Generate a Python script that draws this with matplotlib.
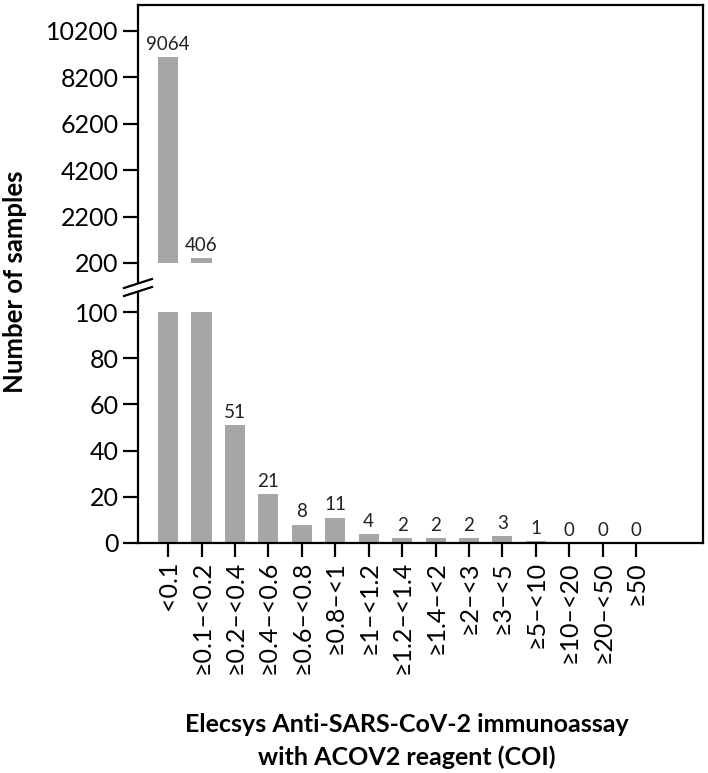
import matplotlib
matplotlib.use("Agg")
import matplotlib.pyplot as plt
from matplotlib.lines import Line2D
from matplotlib.patches import Polygon

plt.rcParams['font.family'] = ['Lato', 'DejaVu Sans']

categories = ["<0.1", "≥0.1–<0.2", "≥0.2–<0.4", "≥0.4–<0.6", "≥0.6–<0.8", "≥0.8–<1",
              "≥1–<1.2", "≥1.2–<1.4", "≥1.4–<2", "≥2–<3", "≥3–<5", "≥5–<10",
              "≥10–<20", "≥20–<50", "≥50"]
counts = [9064, 406, 51, 21, 8, 11, 4, 2, 2, 2, 3, 1, 0, 0, 0]
upper_ticks = [200, 2200, 4200, 6200, 8200, 10200]
lower_ticks = [0, 20, 40, 60, 80, 100]

W, H = 708, 773
fig = plt.figure(figsize=(W / 100, H / 100), dpi=100)

def fx(px):
    return px / W

def fy(py):
    return 1 - py / H

left, right = 138, 703
top, bottom = 5, 543
up_bot = 263
lo_top = 312

bar_color = "#a6a6a6"
lw = 1.6
xs = list(range(len(categories)))
xlim = (-0.9, 16.0)

# frame
frame = fig.add_axes([fx(left), fy(bottom), fx(right) - fx(left), fy(top) - fy(bottom)])
frame.set_xticks([]); frame.set_yticks([])
frame.patch.set_alpha(0)
for s in frame.spines.values():
    s.set_linewidth(lw)
frame.set_zorder(3)

ax_up = fig.add_axes([fx(left), fy(up_bot), fx(right) - fx(left), fy(top) - fy(up_bot)])
ax_lo = fig.add_axes([fx(left), fy(bottom), fx(right) - fx(left), fy(lo_top) - fy(bottom)])

for ax in (ax_up, ax_lo):
    ax.bar(xs, counts, width=0.6, color=bar_color, zorder=2)
    ax.set_xlim(*xlim)
    for s in ax.spines.values():
        s.set_visible(False)
    ax.patch.set_alpha(0)
    ax.tick_params(axis='y', length=11, width=lw, labelsize=18, pad=3)

ax_up.set_ylim(200, 11320)
ax_up.set_yticks(upper_ticks)
ax_up.set_xticks([])
ax_lo.set_ylim(0, 100)
ax_lo.set_yticks(lower_ticks)
ax_lo.set_xticks(xs)
ax_lo.set_xticklabels(categories, rotation=90, fontsize=18)
ax_lo.tick_params(axis='x', length=10, width=lw, pad=3)

for x, v in zip(xs, counts):
    ax = ax_up if v > 100 else ax_lo
    ax.annotate(str(v), (x, v), xytext=(0, 3), textcoords='offset points',
                ha='center', va='bottom', fontsize=13.5, color='#222222')

# axis break marker
y1, y2 = 279, 296
poly = Polygon([(fx(124), fy(y1 + 9)), (fx(152), fy(y1)), (fx(152), fy(y2 - 9)), (fx(124), fy(y2))],
               closed=True, transform=fig.transFigure, facecolor='white', edgecolor='none', zorder=10)
fig.patches.append(poly)
fig.add_artist(Line2D([fx(124), fx(152)], [fy(y1 + 9), fy(y1)], color='black', lw=lw, zorder=11))
fig.add_artist(Line2D([fx(124), fx(152)], [fy(y2), fy(y2 - 9)], color='black', lw=lw, zorder=11))

fig.text(fx(15), fy(282), "Number of samples", rotation=90, ha='center', va='center',
         fontsize=18.5, fontweight='bold')
fig.text(fx(407), fy(741), "Elecsys Anti-SARS-CoV-2 immunoassay\nwith ACOV2 reagent (COI)",
         ha='center', va='center', fontsize=18, fontweight='bold', linespacing=1.5)

fig.savefig("out.png", dpi=100)
